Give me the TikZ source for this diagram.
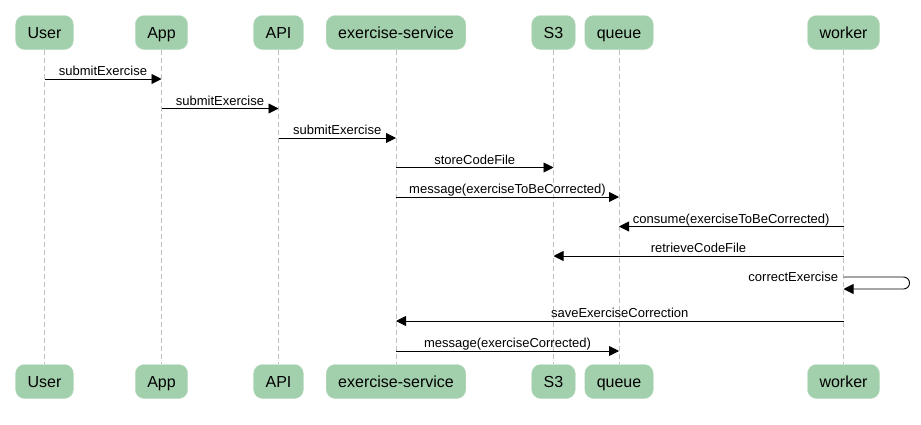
\documentclass[tikz,border=0pt]{standalone}
\usepackage{fontspec}
\setmainfont{Liberation Sans}
\usetikzlibrary{arrows.meta}
\definecolor{actorgreen}{RGB}{163,208,172}
\definecolor{lifegray}{RGB}{192,192,192}

\begin{document}
\begin{tikzpicture}[x=1pt, y=-1pt,
    actor/.style={fill=actorgreen, draw=actorgreen!75!white, rounded corners=9pt,
      minimum height=34pt, inner xsep=12pt, text height=15pt, text depth=3pt,
      font=\fontsize{16}{19}\selectfont},
    lifeline/.style={draw=lifegray, dash pattern=on 5pt off 3pt, line width=0.8pt},
    msgline/.style={line width=0.9pt, -{Triangle[length=10pt, width=10pt]}},
    msgfont/.style={inner sep=0pt, font=\fontsize{13}{15}\selectfont},
    msglabel/.style={msgfont, midway, anchor=base, yshift=3.5pt}]
  \useasboundingbox (0,0) rectangle (921,424);
  % Participants, top and bottom row, joined by their lifelines
  \foreach \name/\x/\txt in {user/44.5/User, app/161.5/App, api/278.5/API,
      es/396/exercise-service, s3/553.5/S3, queue/619/queue, worker/843.5/worker} {
    \node[actor] (\name) at (\x, 32.5) {\txt};
    \node[actor] (\name-b) at (\x, 381.5) {\txt};
    \draw[lifeline] (\name) -- (\name-b);
  }
  % Messages between lifelines (from/to/height/label)
  \foreach \from/\to/\y/\txt in {user/app/79/submitExercise, app/api/108.5/submitExercise,
      api/es/138/submitExercise, es/s3/167.5/storeCodeFile,
      es/queue/197/message(exerciseToBeCorrected), worker/queue/226.5/consume(exerciseToBeCorrected),
      worker/s3/256/retrieveCodeFile, worker/es/321/saveExerciseCorrection,
      es/queue/351/message(exerciseCorrected)} {
    \draw[msgline] (\from |- 0,\y) -- (\to |- 0,\y) node[msglabel] {\txt};
  }
  % Self message on the worker
  \draw[msgline, rounded corners=6pt] (worker |- 0,277)
    node[msgfont, anchor=east, xshift=-5pt] {correctExercise}
    -- ++(66,0) -- ++(0,12) -- (worker |- 0,289);
\end{tikzpicture}
\end{document}
